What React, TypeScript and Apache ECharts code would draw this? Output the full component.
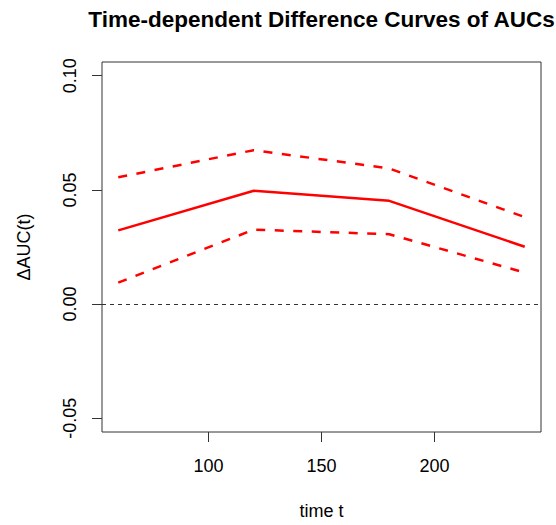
import React, { useEffect, useRef } from "react";
import * as echarts from "echarts";

const times = [60, 120, 180, 240];
const deltaAUC = [0.0323, 0.0496, 0.0452, 0.0251];
const upperCI = [0.0555, 0.0674, 0.0594, 0.0381];
const lowerCI = [0.0094, 0.0326, 0.0306, 0.0138];
const xTicks = [100, 150, 200];
const yTicks = [-0.05, 0, 0.05, 0.1];

const FONT = "Liberation Sans, Arial, sans-serif";

export default function App() {
  const ref = useRef<HTMLDivElement>(null);
  useEffect(() => {
    if (!ref.current) return;
    const chart = echarts.init(ref.current, undefined, { renderer: "svg" });
    const pairs = (ys: number[]) => times.map((t, i) => [t, ys[i]]);
    chart.setOption({
      animation: false,
      backgroundColor: "#ffffff",
      textStyle: { fontFamily: FONT },
      grid: {
        left: 102,
        top: 62,
        width: 439,
        height: 370.5,
        show: true,
        borderColor: "#333333",
        borderWidth: 1,
        backgroundColor: "transparent",
      },
      xAxis: {
        type: "value",
        min: 52.8,
        max: 247.2,
        splitLine: { show: false },
        axisLine: { show: false, onZero: false },
        axisTick: {
          show: true,
          inside: false,
          length: 10,
          customValues: xTicks,
          lineStyle: { color: "#333333", width: 1 },
        },
        axisLabel: {
          customValues: xTicks,
          margin: 25,
          fontSize: 18,
          color: "#000000",
          fontFamily: FONT,
        },
        name: "time t",
        nameLocation: "middle",
        nameGap: 70,
        nameTextStyle: { fontSize: 18, color: "#000000", fontFamily: FONT },
      },
      yAxis: {
        type: "value",
        min: -0.056,
        max: 0.106,
        splitLine: { show: false },
        axisLine: { show: false, onZero: false },
        axisTick: {
          show: true,
          inside: false,
          length: 10,
          customValues: yTicks,
          lineStyle: { color: "#333333", width: 1 },
        },
        axisLabel: {
          customValues: yTicks,
          rotate: 90,
          margin: 23,
          fontSize: 18,
          color: "#000000",
          fontFamily: FONT,
          formatter: (v: number) => v.toFixed(2),
        },
        name: "ΔAUC(t)",
        nameLocation: "middle",
        nameRotate: 90,
        nameGap: 69,
        nameTextStyle: { fontSize: 18, color: "#000000", fontFamily: FONT },
      },
      graphic: [
        {
          type: "text",
          x: 321.5,
          y: 19.5,
          style: {
            text: "Time-dependent Difference Curves of AUCs",
            fontFamily: FONT,
            fontWeight: "bold",
            fontSize: 22.5,
            fill: "#000000",
            textAlign: "center",
            textVerticalAlign: "middle",
          },
        },
      ],
      series: [
        {
          type: "line",
          data: pairs(deltaAUC),
          showSymbol: false,
          symbol: "none",
          lineStyle: { color: "#ff0000", width: 2.5, type: "solid" },
          markLine: {
            silent: true,
            symbol: "none",
            label: { show: false },
            lineStyle: { color: "#333333", width: 1, type: [4, 4] },
            data: [{ yAxis: 0 }],
          },
        },
        {
          type: "line",
          data: pairs(upperCI),
          showSymbol: false,
          symbol: "none",
          lineStyle: { color: "#ff0000", width: 2.5, type: [9, 9.5] },
        },
        {
          type: "line",
          data: pairs(lowerCI),
          showSymbol: false,
          symbol: "none",
          lineStyle: { color: "#ff0000", width: 2.5, type: [9, 9.5] },
        },
      ],
    });
    return () => chart.dispose();
  }, []);
  return (
    <div
      ref={ref}
      style={{ position: "absolute", left: 0, top: 0, width: 556, height: 525 }}
    />
  );
}
